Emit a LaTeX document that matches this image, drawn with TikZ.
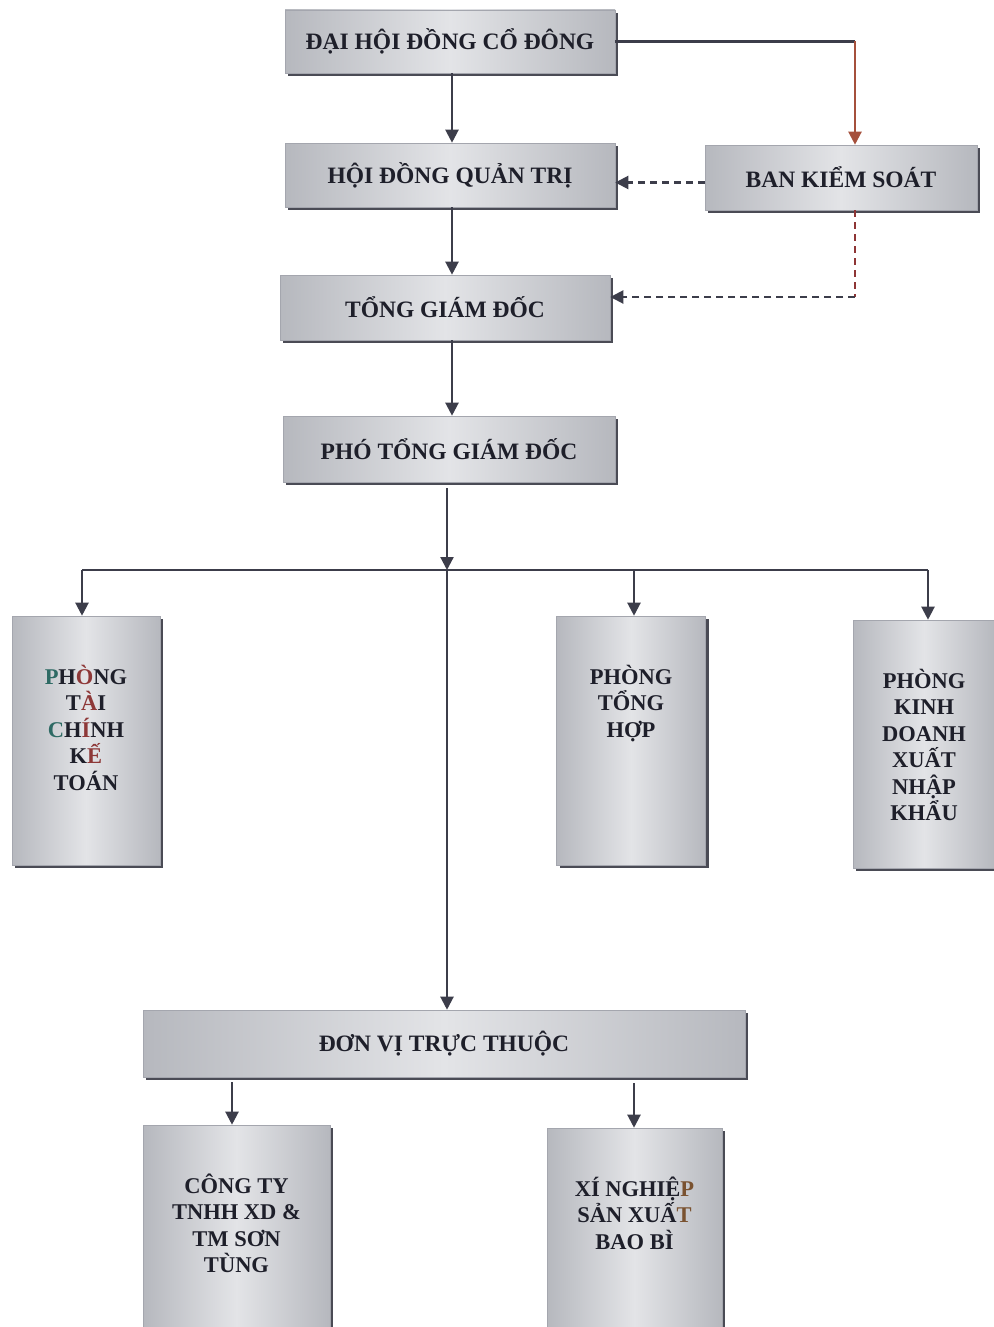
\documentclass[tikz,border=0pt]{standalone}
\usepackage{fontspec}
\setmainfont{Liberation Serif}
\usetikzlibrary{arrows.meta,shadows}
\definecolor{linec}{HTML}{3C3D4A}
\definecolor{redl}{HTML}{A5503C}
\definecolor{redd}{HTML}{8E3535}
\definecolor{txt}{HTML}{1E1F2A}
\definecolor{tealc}{HTML}{2E6A64}
\definecolor{redc}{HTML}{8E3838}
\definecolor{brownc}{HTML}{7A5230}
\definecolor{boxedge}{HTML}{A4A6AE}
\definecolor{boxmid}{HTML}{E3E4E7}
\definecolor{boxside}{HTML}{B6B8BE}
\definecolor{shadowc}{HTML}{4A4B55}
\newcommand\vb[3]{\parbox[c][#2pt][t]{#1pt}{\centering\fontsize{22.5}{26.5}\selectfont\rule{0pt}{68pt}#3}}
\begin{document}
\begin{tikzpicture}[x=1pt,y=-1pt,
  box/.style={draw=boxedge, line width=0.6pt, left color=boxside, right color=boxside, middle color=boxmid,
    drop shadow={shadow xshift=3pt, shadow yshift=-3pt, fill=shadowc, opacity=1},
    inner sep=0pt, text=txt, font=\bfseries\fontsize{23.5}{27}\selectfont, align=center},
  ln/.style={draw=linec, line width=2.2pt},
  arr/.style={ln, -{Triangle[width=13pt,length=13pt]}},
  dashln/.style={line width=2.2pt, dash pattern=on 7pt off 5pt}
]
\fill[white] (0,0) rectangle (993,1327);
\useasboundingbox (0,0) rectangle (993,1327);

% boxes
\node[box, minimum width=330pt, minimum height=63pt] (dhd) at (450,41.5) {ĐẠI HỘI ĐỒNG CỔ ĐÔNG};
\node[box, minimum width=330pt, minimum height=64pt] (hdqt) at (450,175) {HỘI ĐỒNG QUẢN TRỊ};
\node[box, minimum width=272pt, minimum height=65pt] (bks) at (841,177.5) {BAN KIỂM SOÁT};
\node[box, minimum width=330pt, minimum height=65pt] (tgd) at (445,307.5) {TỔNG GIÁM ĐỐC};
\node[box, minimum width=332pt, minimum height=66pt] (ptgd) at (449,449) {PHÓ TỔNG GIÁM ĐỐC};

\node[box] (tc) at (86,740.5) {\vb{148}{249}{\textcolor{tealc}{P}H\textcolor{redc}{Ò}NG\\T\textcolor{redc}{À}I\\\textcolor{tealc}{C}H\textcolor{redc}{Í}NH\\K\textcolor{redc}{Ế}\\TOÁN}};
\node[box] (th) at (631,740.5) {\vb{149}{249}{PHÒNG\\TỔNG\\HỢP}};
\node[box] (kd) at (924,744) {\vb{142}{248}{PHÒNG\\KINH\\DOANH\\XUẤT\\NHẬP\\KHẨU}};

\node[box, minimum width=602pt, minimum height=67pt] (dv) at (444,1043.5) {ĐƠN VỊ TRỰC THUỘC};
\node[box] (ct) at (236.5,1230) {\vb{187}{210}{CÔNG TY\\TNHH XD \&\\TM SƠN\\TÙNG}};
\node[box] (xn) at (634.5,1231.5) {\vb{175}{207}{XÍ NGHIỆ\textcolor{brownc}{P}\\SẢN XUẤ\textcolor{brownc}{T}\\BAO BÌ}};

% helper coordinates
\coordinate (sp) at (452,0);
\coordinate (kx) at (855,0);
\coordinate (c2) at (855,297);
\coordinate (j) at (447,570);
\coordinate (bl) at (82,570);
\coordinate (b2) at (634,570);
\coordinate (br) at (928,570);
\coordinate (d1) at (232,0);
\coordinate (d2) at (634,0);

% main chain
\draw[arr] (sp |- dhd.south) -- (sp |- hdqt.north);
\draw[arr] (sp |- hdqt.south) -- (sp |- tgd.north);
\draw[arr] (sp |- tgd.south) -- (sp |- ptgd.north);

% to BKS
\draw[ln] (dhd.east) -- (dhd.east -| kx);
\draw[arr, draw=redl] (dhd.east -| kx) -- (kx |- bks.north);
\draw[arr, dashln, draw=linec] ([yshift=-5pt]bks.west) -- ([yshift=-5pt]bks.west -| hdqt.east);
\draw[dashln, draw=redd] (kx |- bks.south) -- (c2);
\draw[arr, dashln, draw=linec] (c2) -- (c2 -| tgd.east);

% PTGD to departments
\draw[arr] ([yshift=-6pt]ptgd.south -| j) -- (j);
\draw[ln] (bl) -- (br);
\draw[arr] (bl) -- (bl |- tc.north);
\draw[arr] (b2) -- (b2 |- th.north);
\draw[arr] (br) -- (br |- kd.north);
\draw[arr] (j) -- (j |- dv.north);

% DV to subsidiaries
\draw[arr] ([yshift=-5pt]d1 |- dv.south) -- (d1 |- ct.north);
\draw[arr] ([yshift=-6pt]d2 |- dv.south) -- (d2 |- xn.north);
\end{tikzpicture}
\end{document}
